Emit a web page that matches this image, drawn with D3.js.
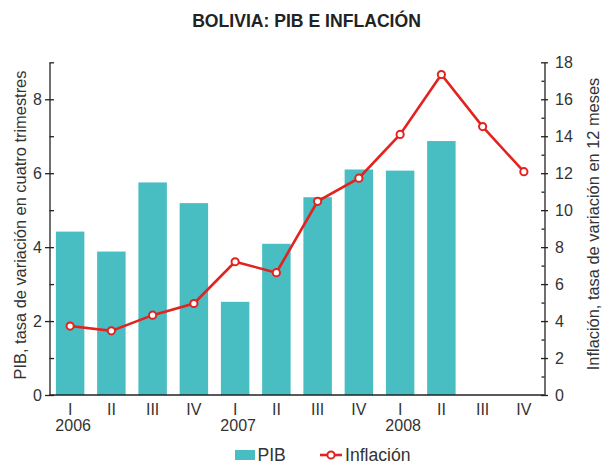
<!DOCTYPE html>
<html><head><meta charset="utf-8">
<script src="https://cdn.jsdelivr.net/npm/d3@7"></script>
<style>
body{margin:0;background:#fff;}
text{font-family:"Liberation Sans",Arial,sans-serif;}
</style></head>
<body><svg id="c" width="602" height="465"></svg>
<script>
const categories = ["I","II","III","IV","I","II","III","IV","I","II","III","IV"];
const years = ["2006","","","","2007","","","","2008","","",""];
const pib = [4.42,3.88,5.75,5.19,2.52,4.09,5.35,6.10,6.07,6.87,null,null];
const inflacion = [3.73,3.47,4.32,4.95,7.21,6.62,10.48,11.73,14.10,17.34,14.52,12.08];
const leftMajor = [0,2,4,6,8];
const leftMinor = [1,3,5,7,9];
const rightMajor = [0,2,4,6,8,10,12,14,16,18];
const rightMinor = [1,3,5,7,9,11,13,15,17];

const svg = d3.select("#c");
const X0 = 49.5, X1 = 544.5, Y0 = 395, Y1 = 62.3;
const teal = "#48BDC2", red = "#E2231F", ink = "#222";

const x = d3.scaleBand().domain(d3.range(categories.length)).range([X0, X1]).paddingInner(0.31).paddingOuter(0.155);
const yL = d3.scaleLinear().domain([0,9]).range([Y0,Y1]);
const yR = d3.scaleLinear().domain([0,18]).range([Y0,Y1]);

// bars
svg.append("g").selectAll("rect").data(pib.map((v,i)=>({v,i})).filter(d=>d.v!=null))
  .join("rect")
  .attr("x", d=>x(d.i)).attr("width", x.bandwidth())
  .attr("y", d=>yL(d.v)).attr("height", d=>Y0 - yL(d.v))
  .attr("fill", teal);

// left axis
const gL = svg.append("g").attr("transform",`translate(${X0},0)`);
gL.call(d3.axisLeft(yL).tickValues(leftMajor).tickSize(4.5).tickSizeOuter(0).tickPadding(3));
gL.selectAll(".tick line").attr("x1", 4.5);
const gLm = svg.append("g").attr("transform",`translate(${X0},0)`);
gLm.call(d3.axisRight(yL).tickValues(leftMinor).tickSize(4.5).tickSizeOuter(0).tickFormat(""));
gLm.select(".domain").remove();

// right axis
const gR = svg.append("g").attr("transform",`translate(${X1},0)`);
gR.call(d3.axisRight(yR).tickValues(rightMajor).tickSize(3.5).tickSizeOuter(0).tickPadding(7));
gR.selectAll(".tick line").attr("x1", -3.5);
const gRm = svg.append("g").attr("transform",`translate(${X1},0)`);
gRm.call(d3.axisLeft(yR).tickValues(rightMinor).tickSize(3).tickSizeOuter(0).tickFormat(""));
gRm.select(".domain").remove();

[gL,gLm,gR,gRm].forEach(g=>{
  g.selectAll("path,line").attr("stroke", ink).attr("stroke-width", 1.3);
  g.selectAll("text").attr("font-size", 16).attr("fill", "#333").attr("font-family",'"Liberation Sans",Arial,sans-serif');
});

// bottom baseline
svg.append("line").attr("x1",X0).attr("x2",X1).attr("y1",Y0).attr("y2",Y0).attr("stroke",ink).attr("stroke-width",1.3);

// bottom category labels
const gB = svg.append("g").attr("transform",`translate(0,${Y0})`);
gB.call(d3.axisBottom(x).tickSize(0).tickPadding(9).tickFormat(i=>categories[i]));
gB.select(".domain").remove();
gB.selectAll("text").attr("font-size",16).attr("fill","#333").attr("font-family",'"Liberation Sans",Arial,sans-serif');
svg.append("g").selectAll("text").data(years.map((t,i)=>({t,i})).filter(d=>d.t))
  .join("text")
  .attr("x", d=>x(d.i)+x.bandwidth()/2+3).attr("y", 431)
  .attr("text-anchor","middle").attr("font-size",16).attr("fill","#333")
  .text(d=>d.t);

// line
const line = d3.line().x((d,i)=>x(i)+x.bandwidth()/2).y(d=>yR(d));
svg.append("path").datum(inflacion).attr("d", line).attr("fill","none").attr("stroke",red).attr("stroke-width",2.6);
svg.append("g").selectAll("circle").data(inflacion).join("circle")
  .attr("cx",(d,i)=>x(i)+x.bandwidth()/2).attr("cy",d=>yR(d)).attr("r",3.6)
  .attr("fill","#fff").attr("stroke",red).attr("stroke-width",2);

// title
svg.append("text").attr("x",306.5).attr("y",27).attr("text-anchor","middle")
  .attr("font-size",17.6).attr("font-weight","bold").attr("fill",ink).text("BOLIVIA: PIB E INFLACIÓN");

// axis titles
svg.append("text").attr("transform","translate(25.5,225) rotate(-90)").attr("text-anchor","middle")
  .attr("font-size",16.4).attr("fill","#333").text("PIB, tasa de variación en cuatro trimestres");
svg.append("text").attr("transform","translate(598.5,224) rotate(-90)").attr("text-anchor","middle")
  .attr("font-size",16.4).attr("fill","#333").text("Inflación, tasa de variación en 12 meses");

// legend
const lg = svg.append("g");
lg.append("rect").attr("x",235).attr("y",450).attr("width",20).attr("height",10).attr("fill",teal);
lg.append("text").attr("x",257.5).attr("y",461).attr("font-size",17.6).attr("fill","#333").text("PIB");
lg.append("line").attr("x1",320).attr("x2",342).attr("y1",455).attr("y2",455).attr("stroke",red).attr("stroke-width",2.6);
lg.append("circle").attr("cx",331).attr("cy",455).attr("r",3.6).attr("fill","#fff").attr("stroke",red).attr("stroke-width",2);
lg.append("text").attr("x",345).attr("y",461).attr("font-size",17.6).attr("fill","#333").text("Inflación");
</script></body></html>
